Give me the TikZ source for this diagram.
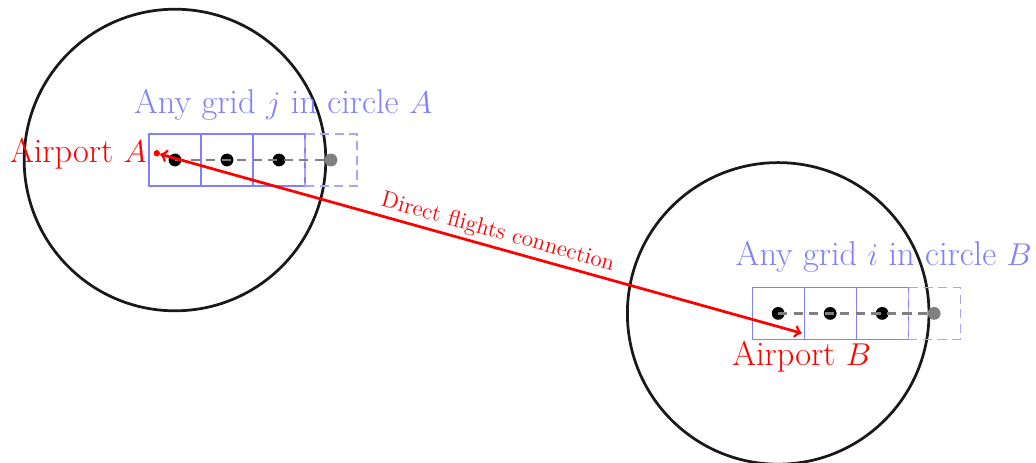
\documentclass[tikz,border=0pt]{standalone}
\usepackage{tikz}
\usetikzlibrary{positioning}

\begin{document}
\begin{tikzpicture}[
    >=to,
    % --- Styles ---
    zone/.style={circle, draw=black!90, line width=1.5pt, minimum size=5.8cm, inner sep=0pt},
    cell/.style={draw=blue!50, line width=0.6pt, minimum size=1cm, inner sep=0pt, anchor=center},
    ghost/.style={cell, draw=blue!35, dash pattern=on 5pt off 3pt},
    dot/.style={circle, fill=black, minimum size=7pt, inner sep=0pt},
    gdot/.style={dot, fill=gray},
    link/.style={gray, line width=1.2pt, dash pattern=on 5pt off 3.5pt},
    grid_label/.style={text=blue!50, font=\fontsize{18.8}{22}\selectfont},
    airport_label/.style={text=red, font=\fontsize{18.8}{22}\selectfont},
    airport_dot/.style={circle, fill=red, minimum size=3.5pt, inner sep=0pt},
    flight/.style={<->, red, line width=1.5pt}
]
    \useasboundingbox (-3.365,-5.808) rectangle (16.558,3.077);

    % ==========================
    % 1. CIRCLE A
    % ==========================
    \node[zone] (cA) at (0,0) {};

    \foreach \i in {0,1,2} {
        \node[cell] (a\i) at (\i,0) {};
    }
    \node[ghost] (a3) at (3,0) {};

    \foreach \i in {0,1,2} {
        \node[dot] (da\i) at (\i,0) {};
    }
    \node[gdot] (da3) at (3,0) {};
    \draw[link] (da0.center) -- (da3.center);

    \node[grid_label] at (2.08,1.06) {Any grid $j$ in circle $A$};

    \node[airport_dot] (airA) at (-0.35,0.13) {};
    \node[airport_label, left=0pt of airA] {Airport $A$};


    % ==========================
    % 2. CIRCLE B
    % ==========================
    \node[zone] (cB) at (11.6,-2.95) {};

    \foreach \i in {0,1,2} {
        \node[cell] (b\i) at (11.6+\i,-2.95) {};
    }
    \node[ghost] (b3) at (14.6,-2.95) {};

    \foreach \i in {0,1,2} {
        \node[dot] (db\i) at (11.6+\i,-2.95) {};
    }
    \node[gdot] (db3) at (14.6,-2.95) {};
    \draw[link] (db0.center) -- (db3.center);

    \node[grid_label] at (13.63,-1.87) {Any grid $i$ in circle $B$};

    \coordinate (airB) at (12.05,-3.33);
    \node[airport_label, below=1pt of airB] {Airport $B$};


    % ==========================
    % 3. FLIGHT CONNECTION
    % ==========================
    \draw[flight] (airA) -- node[pos=0.52, above=-1.5pt, sloped, font=\fontsize{12.6}{15}\selectfont] {Direct flights connection} (airB);

\end{tikzpicture}
\end{document}
